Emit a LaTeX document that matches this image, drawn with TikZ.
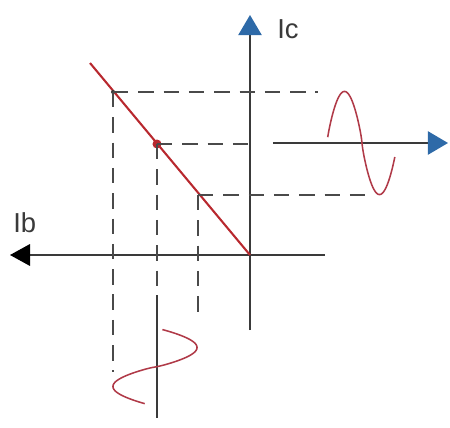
\documentclass[tikz,border=0pt]{standalone}
\usepackage{fontspec}
\setmainfont{Liberation Sans}
\usepackage{xcolor}
\usepackage{tikz}
\usetikzlibrary{arrows.meta,positioning}

\definecolor{axisgray}{HTML}{3A3A3A}
\definecolor{guidegray}{HTML}{4A4A4A}
\definecolor{tipblue}{HTML}{2E6AA8}
\definecolor{linered}{HTML}{B8282E}
\definecolor{wavered}{HTML}{B03A48}

\begin{document}
\begin{tikzpicture}[
    x=0.025cm, y=-0.025cm,
    axis/.style={draw=axisgray, line width=1.1pt},
    bluetip/.style={-{Triangle[length=5mm,width=5.8mm,color=tipblue]}},
    blacktip/.style={-{Triangle[length=5mm,width=5.4mm,color=black]}},
    guide/.style={draw=guidegray, line width=0.9pt, dash pattern=on 11pt off 7pt},
    locus/.style={draw=linered, line width=1.5pt},
    wave/.style={draw=wavered, line width=1.1pt},
    label/.style={inner sep=0pt, anchor=base west, text=axisgray,
                  font=\fontsize{19.5}{22}\selectfont}
]
\useasboundingbox (0,0) rectangle (450,428);

% main axes
\coordinate (O) at (250,255);
\coordinate (icTop) at (250,15);
\coordinate (icBot) at (250,330);
\coordinate (ibTip) at (10,255);
\coordinate (ibEnd) at (325,255);
\draw[axis, bluetip] (icBot) -- (icTop);
\draw[axis, blacktip] (ibEnd) -- (ibTip);
\node[label] (ic) at (277,38) {Ic};
\node[label] (ib) at (13,232) {Ib};

% locus line and its points
\coordinate (start) at (90,63);
\coordinate (pA) at (113,92);
\coordinate (pM) at (157,144);
\coordinate (pB) at (198,195);
\draw[locus] (start) -- (O);
\fill[linered] (pM) circle (4.5);
\fill[axisgray] (pA) circle (2);

% small time axes
\coordinate (rStart) at (273,143);
\coordinate (rTip) at (448,143);
\coordinate (bTop) at (157,295);
\coordinate (bBot) at (157,418);
\draw[axis, bluetip] (rStart) -- (rTip);
\draw[axis] (bTop) -- (bBot);

% projections
\coordinate (hA) at (318,92);
\coordinate (hM) at (258,144);
\coordinate (hB) at (375,195);
\coordinate (vA) at (113,372);
\coordinate (vM) at (157,292);
\coordinate (vB) at (198,315);
\draw[guide] (pA) -- (hA);
\draw[guide] (pM) -- (hM);
\draw[guide] (pB) -- (hB);
\draw[guide] (pA) -- (vA);
\draw[guide] (pM) -- (vM);
\draw[guide] (pB) -- (vB);

% waveforms
\draw[wave] plot[domain=0.01:0.97, samples=120]
    ({327+70*\x},{143-51.5*(sin(360*\x)>=0 ? 1 : -1)*(abs(sin(360*\x))+0.001)^0.8});
\draw[wave] plot[domain=0.02:0.97, samples=120]
    ({155+42*(sin(360*\x)>=0 ? 1 : -1)*(abs(sin(360*\x))+0.001)^0.85},{328+78*\x});

\end{tikzpicture}
\end{document}
